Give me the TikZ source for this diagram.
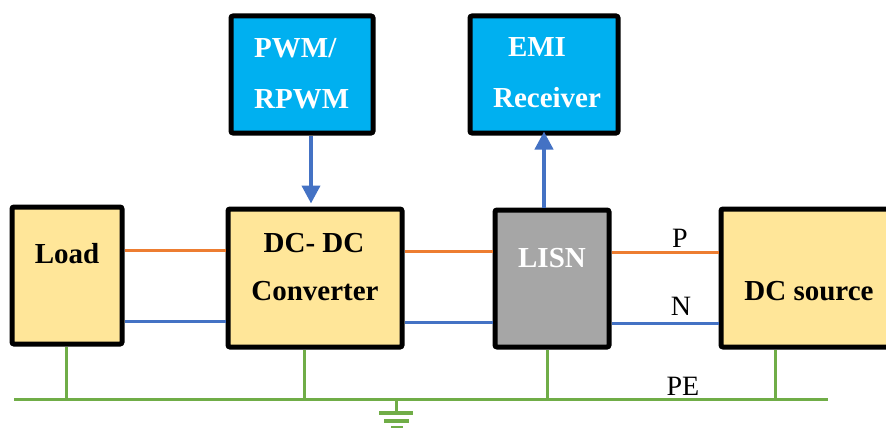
\documentclass[tikz,border=0pt]{standalone}
\usepackage{fontspec}
\setmainfont{Liberation Serif}
\usetikzlibrary{arrows.meta}
\definecolor{boxyellow}{HTML}{FFE699}
\definecolor{boxblue}{HTML}{00B0F0}
\definecolor{boxgray}{HTML}{A6A6A6}
\definecolor{lineorange}{HTML}{ED7D31}
\definecolor{lineblue}{HTML}{4472C4}
\definecolor{linegreen}{HTML}{70AD47}

\begin{document}
\begin{tikzpicture}[x=1pt,y=-1pt,
    blk/.style={draw=black,line width=5pt,rounded corners=2pt,inner sep=0pt},
    ybox/.style={blk,fill=boxyellow},
    bbox/.style={blk,fill=boxblue},
    gbox/.style={blk,fill=boxgray},
    txt/.style={anchor=base,inner sep=0pt,font=\fontsize{29}{34}\selectfont\bfseries},
    wtxt/.style={txt,text=white},
    lbl/.style={anchor=base,inner sep=0pt,font=\fontsize{28}{32}\selectfont},
    pwire/.style={lineorange,line width=3pt},
    nwire/.style={lineblue,line width=3pt},
    gwire/.style={linegreen,line width=3pt},
    sig/.style={lineblue,line width=4pt,-{Triangle[length=18pt,width=18pt]}}]
    \useasboundingbox (0,0) rectangle (886,428);
    % blocks
    \node[ybox,minimum width=110pt,minimum height=137pt] (load) at (67,275.5) {};
    \node[ybox,minimum width=174pt,minimum height=138pt] (conv) at (315,278) {};
    \node[gbox,minimum width=114pt,minimum height=137pt] (lisn) at (552,278.5) {};
    \node[ybox,minimum width=179pt,minimum height=138pt] (src) at (810.5,278) {};
    \node[bbox,minimum width=142pt,minimum height=117pt] (pwm) at (302,74.5) {};
    \node[bbox,minimum width=148pt,minimum height=117pt] (emi) at (544,74.5) {};
    % texts
    \node[txt] (loadtxt) at (67,263) {Load};
    \node[txt] (convtxt) at (314,252) {DC- DC};
    \node[txt] (convtxtb) at (315,300) {Converter};
    \node[wtxt] (lisntxt) at (552,267) {LISN};
    \node[txt] (srctxt) at (809,300) {DC source};
    \node[wtxt,anchor=base west] (pwmtxt) at (254,58) {PWM/};
    \node[wtxt,anchor=base west] (pwmtxtb) at (254,108) {RPWM};
    \node[wtxt] (emitxt) at (537,57) {EMI};
    \node[wtxt] (emitxtb) at (547,107) {Receiver};
    % P and N wires
    \draw[pwire] (load.east |- 0,250) -- (conv.west |- 0,250);
    \draw[pwire] (conv.east |- 0,251) -- (lisn.west |- 0,251);
    \draw[pwire] (lisn.east |- 0,252) -- (src.west |- 0,252);
    \draw[nwire] (load.east |- 0,321) -- (conv.west |- 0,321);
    \draw[nwire] (conv.east |- 0,322) -- (lisn.west |- 0,322);
    \draw[nwire] (lisn.east |- 0,323) -- (src.west |- 0,323);
    \node[lbl] (ptxt) at (680,247) {P};
    \node[lbl] (ntxt) at (681,315) {N};
    % PE bus and ground
    \coordinate (busl) at (14,399);
    \coordinate (busr) at (828,399);
    \coordinate (gnd) at (396,399);
    \draw[gwire] (busl) -- (busr);
    \foreach \b/\x in {load/66,conv/304,lisn/547,src/775}
        \draw[gwire] (\b.south -| \x,0) -- (\x,399);
    \draw[gwire] (gnd) -- ++(0,14);
    \draw[linegreen,line width=3.5pt] (379,413) -- (413,413);
    \draw[linegreen,line width=3.5pt] (384,421) -- (409,421);
    \draw[linegreen,line width=3.5pt] (391,428) -- (403,428);
    \node[lbl] (petxt) at (683,395) {PE};
    % signal arrows
    \draw[sig] (pwm.south -| 311,0) -- ([yshift=3pt]conv.north -| 311,0);
    \draw[sig] (lisn.north -| 544,0) -- ([yshift=4pt]emi.south -| 544,0);
\end{tikzpicture}
\end{document}
